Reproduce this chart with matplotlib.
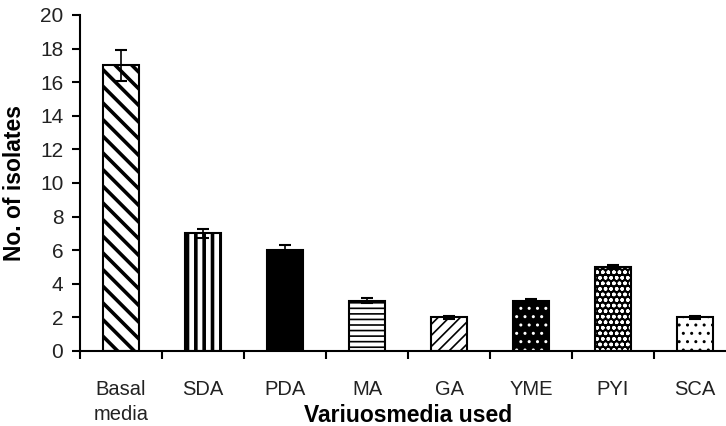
import matplotlib
matplotlib.use("Agg")
import matplotlib.pyplot as plt
import numpy as np

categories = ["Basal\nmedia", "SDA", "PDA", "MA", "GA", "YME", "PYI", "SCA"]
values = [17, 7, 6, 3, 2, 3, 5, 2]
errors = [0.9, 0.25, 0.3, 0.15, 0.1, 0.12, 0.1, 0.1]
yticks = [0, 2, 4, 6, 8, 10, 12, 14, 16, 18, 20]

# style per bar: facecolor, hatch colour, hatch, hatch linewidth
styles = [
    ("white", "black", "\\\\", 2.6),
    ("white", "black", "||", 2.6),
    ("black", "black", "", 1.0),
    ("white", "black", "---", 1.2),
    ("white", "black", "///", 1.2),
    ("black", "white", "..", 1.0),
    ("black", "white", "ooo", 1.0),
    ("white", "black", "..", 1.0),
]

plt.rcParams["font.family"] = ["Liberation Sans", "DejaVu Sans"]

fig = plt.figure(figsize=(7.26, 4.26), dpi=100)
ax = fig.add_axes([80 / 726, 75 / 426, 656 / 726, 336 / 426])

x = np.arange(len(categories))
width = 0.43
for xi, v, (fc, hc, h, lw) in zip(x, values, styles):
    b = ax.bar(xi, v, width=width, color=fc, edgecolor=hc, hatch=h,
               linewidth=0, zorder=2)
    for p in b:
        if hasattr(p, "set_hatch_linewidth"):
            p.set_hatch_linewidth(lw)
    ax.bar(xi, v, width=width, fill=False, edgecolor="black",
           linewidth=1.5, zorder=3)

ax.errorbar(x, values, yerr=errors, fmt="none", ecolor="black",
            elinewidth=1.2, capsize=4, capthick=1.5, zorder=4)

ax.set_xlim(-0.5, len(categories) - 0.5)
ax.set_ylim(0, 20)
ax.set_yticks(yticks)
ax.tick_params(axis="y", direction="out", length=6, width=1.5,
               labelsize=15, pad=6, labelcolor="#222222")
ax.set_xticks(x)
ax.set_xticklabels(categories, fontsize=14.5, linespacing=1.4,
                   color="#222222")
ax.tick_params(axis="x", which="major", length=0, pad=21)
ax.set_xticks(np.arange(len(categories) + 1) - 0.5, minor=True)
ax.tick_params(axis="x", which="minor", direction="out", length=6, width=1.5)

for s in ["top", "right"]:
    ax.spines[s].set_visible(False)
for s in ["left", "bottom"]:
    ax.spines[s].set_linewidth(1.5)

ax.set_xlabel("Variuosmedia used", fontsize=16.5, fontweight="bold")
ax.xaxis.set_label_coords(0.5, -0.157)
ax.set_ylabel("No. of isolates", fontsize=16.5, fontweight="bold")
ax.yaxis.set_label_coords(-0.082, 0.5)

fig.savefig("out.png", dpi=100)
